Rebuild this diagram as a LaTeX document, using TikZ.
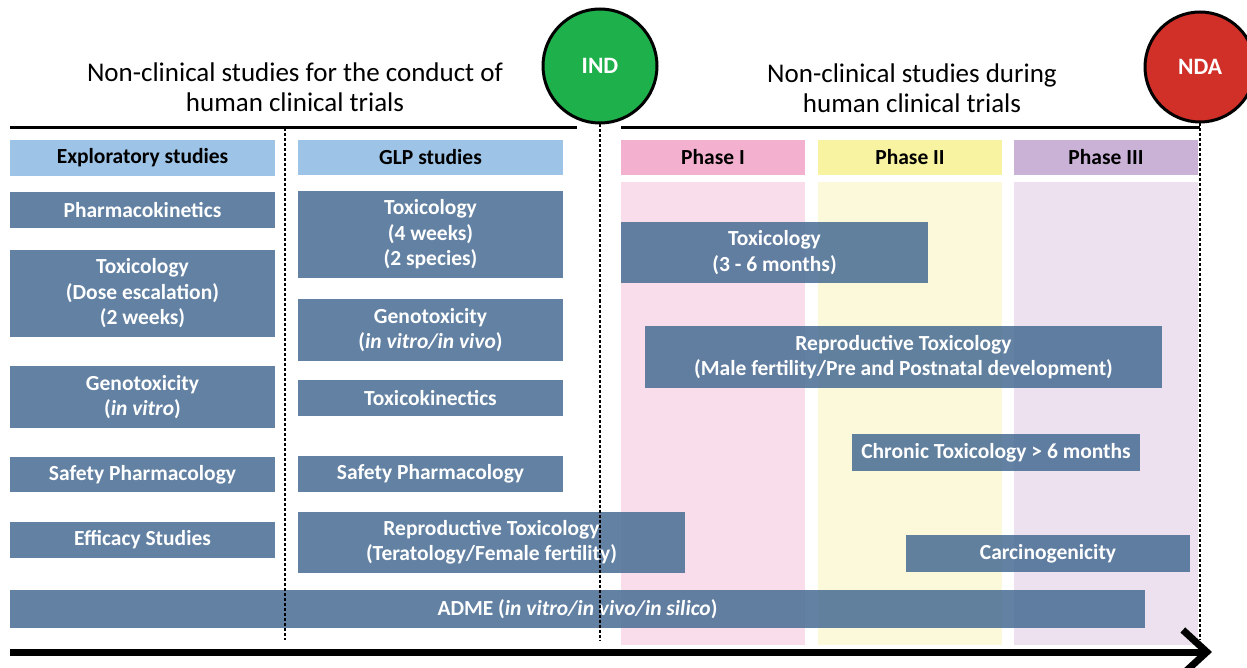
\documentclass[tikz,border=0pt]{standalone}
\usepackage{fontspec}
\setmainfont{Carlito}
\usepackage{tikz}
\usetikzlibrary{arrows.meta, positioning}

\definecolor{studyblue}{RGB}{76,112,150}
\definecolor{headblue}{RGB}{157,195,230}
\definecolor{phaseone}{RGB}{244,177,207}
\definecolor{phasetwo}{RGB}{248,243,160}
\definecolor{phasethree}{RGB}{201,178,214}
\definecolor{bgone}{RGB}{250,221,234}
\definecolor{bgtwo}{RGB}{251,249,218}
\definecolor{bgthree}{RGB}{237,225,240}
\definecolor{indgreen}{RGB}{30,177,75}
\definecolor{ndared}{RGB}{208,48,40}

\begin{document}
\begin{tikzpicture}[x=1pt, y=-1pt,
	study/.style={fill=studyblue, fill opacity=0.88, text opacity=1, text=white, align=center,
		inner sep=0pt, font=\fontsize{21.5}{25.5}\selectfont\bfseries},
	header/.style={inner sep=0pt, minimum height=35pt, font=\fontsize{21.5}{25}\selectfont\bfseries},
	title/.style={align=center, font=\fontsize{27}{30}\selectfont},
	milestone/.style={circle, draw, line width=3pt, text=white, font=\fontsize{23.5}{26}\selectfont\bfseries},
	divider/.style={dash pattern=on 3pt off 2pt, line width=1.2pt}]

\useasboundingbox (0,0) rectangle (1247,668);

% phase columns
\fill [bgone] (621,182) rectangle (805,645);
\fill [bgtwo] (818,182) rectangle (1002,645);
\fill [bgthree] (1014,182) rectangle (1198,645);

% titles and milestones
\node [title] (pre) at (295,87) {Non-clinical studies for the conduct of \\ human clinical trials};
\node [title] (during) at (912,88) {Non-clinical studies during \\ human clinical trials};
\node [milestone, fill=indgreen, minimum size=114pt] (ind) at (600,66) {IND};
\node [milestone, fill=ndared, minimum size=110pt] (nda) at (1200,67) {NDA};

\draw [line width=3pt] (10,128) -- (577,128);
\draw [line width=3pt] (621,128) -- (1200,128);

% headers
\node [header, fill=headblue, minimum width=265pt, minimum height=36pt] (expl) at (142.5,158) {Exploratory studies};
\node [header, fill=headblue, minimum width=265pt] (glp) at (430.5,157.5) {GLP studies};
\node [header, fill=phaseone, minimum width=184pt] (ph1) at (713,157.5) {Phase I};
\node [header, fill=phasetwo, minimum width=184pt] (ph2) at (910,157.5) {Phase II};
\node [header, fill=phasethree, minimum width=184pt] (ph3) at (1106,157.5) {Phase III};

% exploratory studies
\node [study, minimum width=265pt, minimum height=36pt] (pk) at (142.5,210) {Pharmacokinetics};
\node [study, minimum width=265pt, minimum height=87pt] (toxa) at (142.5,293.5) {Toxicology \\ (Dose escalation) \\ (2 weeks)};
\node [study, minimum width=265pt, minimum height=62pt] (genoa) at (142.5,397) {Genotoxicity \\ (\textit{in vitro})};
\node [study, minimum width=265pt, minimum height=35pt] (safa) at (142.5,474.5) {Safety Pharmacology};
\node [study, minimum width=265pt, minimum height=36pt] (eff) at (142.5,540) {Efficacy Studies};

% GLP studies
\node [study, minimum width=265pt, minimum height=87pt] (toxb) at (430.5,234.5) {Toxicology \\ (4 weeks) \\ (2 species)};
\node [study, minimum width=265pt, minimum height=62pt] (genob) at (430.5,330) {Genotoxicity \\ (\textit{in vitro/in vivo})};
\node [study, minimum width=265pt, minimum height=36pt] (tk) at (430.5,398) {Toxicokinectics};
\node [study, minimum width=265pt, minimum height=36pt] (safb) at (430.5,474) {Safety Pharmacology};
\node [study, minimum width=387pt, minimum height=61pt] (reprob) at (491.5,542.5) {Reproductive Toxicology \\ (Teratology/Female fertility)};

% during clinical trials
\node [study, minimum width=307pt, minimum height=61pt] (toxc) at (774.5,252.5) {Toxicology \\ (3 - 6 months)};
\node [study, minimum width=517pt, minimum height=62pt] (reproc) at (903.5,357) {Reproductive Toxicology \\ (Male fertility/Pre and Postnatal development)};
\node [study, minimum width=288pt, minimum height=37pt] (chronic) at (996,452.5) {Chronic Toxicology > 6 months};
\node [study, minimum width=284pt, minimum height=37pt] (carc) at (1048,553.5) {Carcinogenicity};
\node [study, minimum width=1135pt, minimum height=38pt] (adme) at (577.5,609) {ADME (\textit{in vitro/in vivo/in silico})};

% separators and time axis
\coordinate (sep) at (285,128);
\coordinate (sepend) at (285,640);
\coordinate (indend) at (600,640);
\coordinate (ndaend) at (1200,640);
\draw [divider] (sep) -- (sepend);
\draw [divider] (ind.south) -- (indend);
\draw [divider] (nda.south) -- (ndaend);

\coordinate (start) at (10,652);
\coordinate (stop) at (1212,652);
\draw [line width=7pt, -{Straight Barb[length=24pt, width=44pt]}] (start) -- (stop);

\end{tikzpicture}
\end{document}
